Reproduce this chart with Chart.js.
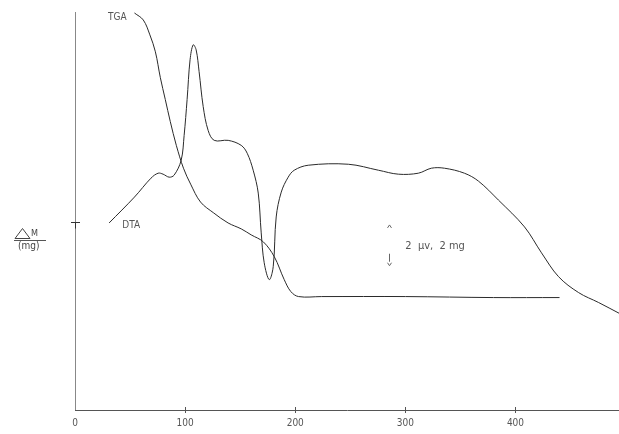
<!DOCTYPE html>
<html>
<head>
<meta charset="utf-8">
<script src="https://cdn.jsdelivr.net/npm/chart.js@4/dist/chart.umd.min.js"></script>
<style>
  html, body { margin: 0; padding: 0; background: #fff; }
  #wrap { width: 619px; height: 434px; position: relative; }
</style>
</head>
<body>
<div id="wrap"><canvas id="c" width="619" height="434"></canvas></div>
<script>
// Temperature axis (°C)
const xTicks = [0, 100, 200, 300, 400];

// Thermogravimetric curve: temperature, mass signal (arbitrary units)
const tgaTemp = [54, 62, 68, 73, 77.5, 82, 86.5, 92, 98.5, 105, 114, 126, 139, 151, 160, 171, 181, 190, 196, 203, 224, 300, 380, 440];
const tgaMass = [39.9, 39.2, 37.7, 36.0, 33.4, 31.2, 29.0, 26.6, 24.3, 22.7, 20.9, 19.8, 18.8, 18.2, 17.6, 16.9, 15.4, 13.1, 11.9, 11.4, 11.4, 11.4, 11.3, 11.3];

// Differential thermal curve: temperature, signal (arbitrary units)
const dtaTemp = [31, 54, 69, 75.5, 80, 85.5, 90, 96.4, 99.1, 101.8, 104.5, 107.3, 110, 112.7, 116.4, 120.9, 126.4, 139.1, 150.9, 156.4, 161.8, 166.4, 169.1, 171.8, 176.4, 180, 182.7, 187.3, 193.6, 199.1, 211.8, 248.2, 275.5, 293.6, 311.8, 323.6, 335.5, 353.6, 366.4, 384.5, 408.2, 423.6, 439.1, 457.3, 475.5, 494.5];
const dtaSignal = [18.8, 21.4, 23.3, 23.8, 23.7, 23.4, 23.6, 25.1, 27.6, 31.2, 35.2, 36.7, 36.2, 34.0, 30.5, 28.1, 27.1, 27.1, 26.6, 25.8, 24.1, 21.8, 17.8, 14.8, 13.1, 14.4, 19.4, 21.9, 23.4, 24.1, 24.6, 24.7, 24.1, 23.7, 23.8, 24.3, 24.3, 23.8, 23.0, 21.1, 18.4, 15.8, 13.4, 11.8, 10.8, 9.7];

// Curve labels and scale bar
const curveLabels = [
  { text: 'TGA', x: 30, y: 39.5 },
  { text: 'DTA', x: 43, y: 18.6 }
];
const scaleBar = { x: 285.5, top: 18.6, bottom: 14.5, text: '2  \u00b5v,  2 mg', textX: 300 };
const yMarkValue = 18.9;

const FONT = "'Liberation Sans Narrow', 'DejaVu Sans Condensed', 'Liberation Sans', sans-serif";
const INK = '#2a2a2a';
const TEXT = '#555';

const toPts = (xs, ys) => xs.map((x, i) => ({ x: x, y: ys[i] }));

const decorations = {
  id: 'decorations',
  afterDraw(chart) {
    const { ctx, scales: { x, y }, chartArea: a } = chart;
    ctx.save();
    // vertical axis
    ctx.strokeStyle = '#888';
    ctx.lineWidth = 1;
    ctx.beginPath();
    ctx.moveTo(a.left + 0.5, a.top);
    ctx.lineTo(a.left + 0.5, a.bottom);
    ctx.stroke();
    // tick mark on the vertical axis
    const ym = Math.round(y.getPixelForValue(yMarkValue)) + 0.5;
    ctx.strokeStyle = '#333';
    ctx.beginPath();
    ctx.moveTo(a.left - 4, ym);
    ctx.lineTo(a.left + 5, ym);
    ctx.moveTo(a.left + 0.5, ym);
    ctx.lineTo(a.left + 0.5, ym + 6);
    ctx.stroke();
    // ticks crossing the temperature axis
    ctx.strokeStyle = '#555';
    xTicks.slice(1).forEach(v => {
      const px = Math.round(x.getPixelForValue(v)) + 0.5;
      ctx.beginPath();
      ctx.moveTo(px, a.bottom - 3);
      ctx.lineTo(px, a.bottom + 3);
      ctx.stroke();
    });
    // curve names
    ctx.fillStyle = TEXT;
    ctx.font = '10px ' + FONT;
    ctx.textBaseline = 'middle';
    ctx.textAlign = 'left';
    curveLabels.forEach(l => ctx.fillText(l.text, x.getPixelForValue(l.x), y.getPixelForValue(l.y)));
    // scale bar with arrows
    const bx = Math.round(x.getPixelForValue(scaleBar.x)) + 0.5;
    const bt = y.getPixelForValue(scaleBar.top);
    const bb = y.getPixelForValue(scaleBar.bottom);
    ctx.strokeStyle = '#666';
    ctx.beginPath();
    ctx.moveTo(bx - 2, bt + 3); ctx.lineTo(bx, bt); ctx.lineTo(bx + 2, bt + 3);
    ctx.moveTo(bx, bb - 12); ctx.lineTo(bx, bb - 4);
    ctx.moveTo(bx - 2, bb - 3); ctx.lineTo(bx, bb); ctx.lineTo(bx + 2, bb - 3);
    ctx.stroke();
    ctx.font = '11px ' + FONT;
    ctx.fillText(scaleBar.text, x.getPixelForValue(scaleBar.textX), (bt + bb) / 2 + 1);
    // quantity label on the left: delta M over (mg)
    ctx.strokeStyle = '#444';
    ctx.beginPath();
    ctx.moveTo(15, 238.5); ctx.lineTo(22.5, 228.5); ctx.lineTo(30, 238.5); ctx.closePath();
    ctx.stroke();
    ctx.fillStyle = '#444';
    ctx.font = '9px ' + FONT;
    ctx.fillText('M', 31, 234);
    ctx.strokeStyle = '#555';
    ctx.beginPath();
    ctx.moveTo(14, 240.5); ctx.lineTo(46, 240.5);
    ctx.stroke();
    ctx.font = '10px ' + FONT;
    ctx.fillText('(mg)', 18, 246);
    ctx.restore();
  }
};

new Chart(document.getElementById('c'), {
  type: 'line',
  data: {
    datasets: [
      { label: 'TGA', data: toPts(tgaTemp, tgaMass), borderColor: INK, borderWidth: 1, pointRadius: 0, fill: false, tension: 0.35 },
      { label: 'DTA', data: toPts(dtaTemp, dtaSignal), borderColor: INK, borderWidth: 1, pointRadius: 0, fill: false, tension: 0.35 }
    ]
  },
  options: {
    responsive: false,
    animation: false,
    events: [],
    layout: { padding: { left: 75, top: 12, right: 0, bottom: 0 } },
    plugins: { legend: { display: false }, tooltip: { enabled: false } },
    scales: {
      x: {
        type: 'linear',
        min: 0,
        max: 494,
        afterBuildTicks: s => { s.ticks = xTicks.map(v => ({ value: v })); },
        afterFit: s => { s.height = 24; },
        grid: { display: false, drawTicks: false },
        border: { display: true, color: '#555', width: 1 },
        ticks: { color: TEXT, padding: 7, font: { family: FONT, size: 10 } }
      },
      y: {
        display: false,
        min: 0,
        max: 40
      }
    }
  },
  plugins: [decorations]
});
</script>
</body>
</html>
